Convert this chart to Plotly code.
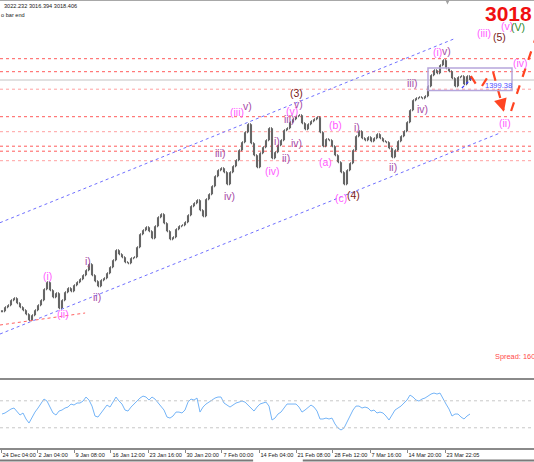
import plotly.graph_objects as go

# ---------------- data ----------------
tick_text = ["24 Dec 04:00", "2 Jan 04:00", "9 Jan 08:00", "16 Jan 12:00", "23 Jan 16:00",
             "30 Jan 20:00", "7 Feb 00:00", "14 Feb 04:00", "21 Feb 08:00", "28 Feb 12:00",
             "7 Mar 16:00", "14 Mar 20:00", "23 Mar 22:05"]
tick_bars = [-0.33, 11.67, 24, 36.33, 48.67, 61, 73.33, 85.67, 98, 110.33, 122.67, 135, 147.67]

close = [2556, 2564, 2568, 2578, 2582, 2572, 2564, 2558, 2550, 2538, 2548, 2558, 2568, 2578, 2600,
         2614, 2598, 2584, 2592, 2562, 2578, 2594, 2602, 2596, 2608, 2614, 2620, 2628, 2638, 2650,
         2628, 2616, 2606, 2618, 2622, 2632, 2644, 2658, 2678, 2670, 2664, 2654, 2652, 2662, 2664,
         2684, 2710, 2718, 2724, 2716, 2702, 2726, 2744, 2750, 2732, 2716, 2700, 2704, 2720, 2726,
         2728, 2734, 2748, 2766, 2772, 2778, 2758, 2746, 2780, 2790, 2806, 2826, 2838, 2842, 2834,
         2810, 2834, 2846, 2858, 2878, 2894, 2914, 2930, 2892, 2868, 2844, 2872, 2884, 2898, 2922,
         2862, 2874, 2888, 2898, 2918, 2922, 2934, 2940, 2946, 2948, 2932, 2920, 2930, 2936, 2940,
         2944, 2914, 2886, 2900, 2898, 2886, 2868, 2854, 2834, 2810, 2838, 2852,
         2878, 2906, 2916, 2902, 2898, 2904, 2896, 2902, 2910, 2902, 2896, 2894, 2882, 2864, 2878,
         2896, 2906, 2916, 2934, 2958, 2978, 2982, 2984, 2982, 2986, 3006, 3028, 3038, 3032, 3048,
         3058, 3042, 3036, 3022, 3006, 3024, 3026, 3010, 3026, 3018.4]

rsi = [50.4, 51.9, 54.8, 57.8, 59.3, 53.3, 48.9, 51.9, 43.0, 37.0, 45.9, 53.3, 59.3, 65.2, 72.6,
       69.6, 60.7, 51.9, 48.9, 54.8, 56.3, 59.3, 60.7, 65.2, 63.7, 66.7, 66.7, 69.6, 75.6, 71.1,
       62.2, 47.4, 45.9, 51.9, 57.8, 63.7, 60.7, 68.1, 75.6, 69.6, 65.2, 56.3, 54.8, 60.7, 65.2,
       71.1, 74.1, 77.0, 75.6, 71.1, 75.6, 72.6, 66.7, 62.2, 56.3, 45.9, 44.4, 47.4, 53.3, 53.3,
       51.9, 56.3, 68.1, 72.6, 71.1, 74.1, 53.3, 60.7, 65.2, 68.1, 71.1, 74.1, 75.6, 75.6, 66.7,
       63.7, 60.7, 63.7, 66.7, 68.1, 69.6, 68.1, 63.7, 57.8, 54.8, 60.7, 65.2, 66.7, 68.1, 62.2,
       41.5, 44.4, 50.4, 53.3, 59.3, 65.2, 65.2, 65.2, 65.2, 60.7, 53.3, 56.3, 60.7, 63.7, 60.7,
       54.8, 43.0, 43.0, 44.4, 43.0, 44.4, 35.6, 29.6, 26.7, 29.6, 38.5, 48.9,
       56.3, 62.2, 62.2, 59.3, 60.7, 59.3, 54.8, 56.3, 51.9, 53.3, 51.9, 47.4, 41.5, 48.9, 56.3,
       59.3, 62.2, 66.7, 71.1, 78.5, 75.6, 71.1, 69.6, 72.6, 74.1, 77.0, 80.0, 81.5, 80.0, 81.5,
       72.6, 65.2, 57.8, 47.4, 50.4, 50.4, 45.9, 43.0, 47.4, 50.4]

level_strong = [3061, 3035, 2945, 2886, 2876]
level_light = [3000, 2915, 2857]
bid_price = 3018.4
rsi_levels = [70, 30]

upper_channel = ([-0.667, 151], [2733.0, 3101.4])
lower_channel = ([-0.667, 166], [2510.4, 2912.4])
red_trend = ([-0.667, 27.7], [2528.4, 2552.4])

MAG = "#ff5cff"
PUR = "#a64ca6"
DRED = "#7a1a1a"
GRN = "#2e8b2e"
wave_labels = [
    ("(i)", 15, 2626, MAG), ("(ii)", 20.3, 2550, MAG), ("i)", 28.7, 2656, PUR), ("ii)", 31.7, 2584, PUR),
    ("iii)", 72.7, 2872, PUR), ("iv)", 75.7, 2786, PUR), ("(iii)", 78.3, 2954, MAG), ("v)", 81.7, 2966, PUR),
    ("(iv)", 90.3, 2836, MAG), ("i)", 91.7, 2896, PUR), ("ii)", 94.7, 2862, PUR), ("iii)", 95.7, 2940, PUR),
    ("iv)", 98, 2892, PUR), ("(v)", 96.7, 2956, MAG), ("v)", 98.7, 2970, PUR), ("(3)", 98.3, 2992, DRED),
    ("(a)", 107.7, 2854, MAG), ("(b)", 111, 2928, MAG), ("(c)", 113, 2782, MAG), ("(4)", 117, 2788, DRED),
    ("i)", 118.3, 2924, PUR), ("ii)", 130.3, 2844, PUR), ("iii)", 136.7, 3012, PUR), ("iv)", 140.3, 2960, PUR),
    ("(i)", 145.3, 3074, MAG), ("v)", 148.3, 3076, PUR), ("(ii)", 167.7, 2932, MAG), ("(iv)", 172.7, 3052, MAG),
    ("(iii)", 160.7, 3112, MAG), ("(5)", 165.7, 3104, DRED), ("(v)", 168.3, 3126, MAG), ("(V)", 172, 3124, GRN),
]

bars = list(range(len(close)))
opens = [close[0]] + close[:-1]
highs = [max(o, c) for o, c in zip(opens, close)]
lows = [min(o, c) for o, c in zip(opens, close)]

fig = go.Figure()

# horizontal levels
for lv in level_strong:
    fig.add_hline(y=lv, line=dict(color="#ff5a5a", width=1, dash="dot"), layer="below")
for lv in level_light:
    fig.add_hline(y=lv, line=dict(color="#ffa0a0", width=1, dash="dot"), layer="below")
fig.add_hline(y=bid_price, line=dict(color="#c4c4c4", width=1), layer="below")

# channel lines
for xs, ys in [upper_channel, lower_channel]:
    fig.add_trace(go.Scatter(x=xs, y=ys, mode="lines", line=dict(color="#7070ff", width=1, dash="dot"),
                             hoverinfo="skip"))
fig.add_trace(go.Scatter(x=red_trend[0], y=red_trend[1], mode="lines",
                         line=dict(color="#ff6060", width=1, dash="dot"), hoverinfo="skip"))

# price bars
fig.add_trace(go.Ohlc(x=bars, open=opens, high=highs, low=lows, close=close, tickwidth=0.35,
                      increasing=dict(line=dict(color="#666666", width=2.1)),
                      decreasing=dict(line=dict(color="#666666", width=2.1))))

# small blue trendline inside box
fig.add_trace(go.Scatter(x=[153.3, 156.7], y=[3002.4, 3022.4], mode="lines",
                         line=dict(color="#3c3cff", width=1.2, dash="dot"), hoverinfo="skip"))

# box
fig.add_shape(type="rect", xref="x", yref="y", x0=142, x1=170, y0=2997.4, y1=3042.4,
              line=dict(color="#b6a6dc", width=1.5))

# red projected path
RED = "#ff4422"
for xs, ys in [([156.3, 158.5], [3026.4, 3005.0]), ([160, 163], [3006.4, 3034.4]),
               ([163.7, 167.2], [3034.4, 2958]), ([169.7, 180], [2956.4, 3140])]:
    fig.add_trace(go.Scatter(x=xs, y=ys, mode="lines", line=dict(color=RED, width=2.2, dash="dash"),
                             hoverinfo="skip"))
for hx, hy, tx, ty in [(158.7, 3004.0, 158.0, 3011.0), (167.3, 2955.0, 166.5, 2972.0)]:
    fig.add_annotation(x=hx, y=hy, ax=tx, ay=ty, xref="x", yref="y", axref="x", ayref="y",
                       showarrow=True, arrowhead=2, arrowsize=1.3, arrowwidth=2, arrowcolor=RED, text="")

# RSI
fig.add_trace(go.Scatter(x=bars, y=rsi, mode="lines", line=dict(color="#74b4f7", width=1),
                         xaxis="x", yaxis="y2", hoverinfo="skip"))
for lv in rsi_levels:
    fig.add_shape(type="line", xref="paper", yref="y2", x0=0, x1=1, y0=lv, y1=lv,
                  line=dict(color="#c8c8c8", width=1, dash="dot"))

# wave labels
for t, x, y, c in wave_labels:
    fig.add_annotation(x=x, y=y, xref="x", yref="y", text=t, showarrow=False,
                       font=dict(color=c, size=10.5, family="Liberation Sans"))

fig.add_annotation(x=160.3, y=3008, xref="x", yref="y", text="1399.38", showarrow=False, xanchor="left",
                   font=dict(color="#5050ff", size=7.5, family="Liberation Sans"))

# texts
fig.add_annotation(x=0.003, y=0.987, xref="paper", yref="paper", text="3022.232 3016.394 3018.406",
                   showarrow=False, xanchor="left", yanchor="middle",
                   font=dict(color="#202020", size=5.6, family="Liberation Sans"))
fig.add_annotation(x=-0.002, y=0.967, xref="paper", yref="paper", text="o bar end",
                   showarrow=False, xanchor="left", yanchor="middle",
                   font=dict(color="#202020", size=5.6, family="Liberation Sans"))
fig.add_annotation(x=1.0, y=0.969, xref="paper", yref="paper", text="<b>3018</b>",
                   showarrow=False, xanchor="right", yanchor="middle",
                   font=dict(color="#f01010", size=21, family="Liberation Sans"))
fig.add_annotation(x=0.924, y=0.205, xref="paper", yref="paper", text="Spread: 160",
                   showarrow=False, xanchor="left", yanchor="middle",
                   font=dict(color="#ff4a4a", size=7.4, family="Liberation Sans"))

# frame lines
fig.add_shape(type="line", xref="paper", yref="paper", x0=0, x1=1, y0=0.154, y1=0.154,
              line=dict(color="#8a8a8a", width=2))
fig.add_shape(type="line", xref="paper", yref="paper", x0=0, x1=1, y0=1, y1=1,
              line=dict(color="#a8a8a8", width=2))
fig.add_shape(type="path", xref="paper", yref="paper", path="M 0.834 1 L 0.842 1 L 0.838 0.99 Z",
              fillcolor="#a0a0a0", line=dict(width=0))
fig.add_shape(type="line", xref="paper", yref="paper", x0=0, x1=0.474, y0=-0.028, y1=-0.028,
              line=dict(color="#7a7a7a", width=2))
fig.add_shape(type="line", xref="paper", yref="paper", x0=0.567, x1=1, y0=-0.028, y1=-0.028,
              line=dict(color="#7a7a7a", width=2))

fig.update_layout(
    width=534, height=462, margin=dict(l=0, r=0, t=0, b=14, autoexpand=False),
    paper_bgcolor="white", plot_bgcolor="white", showlegend=False,
    xaxis=dict(range=[-0.667, 177.333], anchor="y2", showgrid=False, zeroline=False,
               showline=True, linecolor="#8a8a8a", linewidth=2, ticks="outside", ticklen=3,
               tickcolor="#8a8a8a", tickvals=tick_bars, ticktext=tick_text, tickangle=0,
               ticklabelposition="outside right", automargin=False,
               tickfont=dict(size=5.6, color="#202020", family="Liberation Sans"),
               rangeslider=dict(visible=False), fixedrange=True),
    yaxis=dict(domain=[0.154, 1], range=[2420.4, 3178.4], visible=False, fixedrange=True),
    yaxis2=dict(domain=[0, 0.1505], range=[0, 100], visible=False, fixedrange=True),
)

fig.write_html("out.html", config={"displayModeBar": False},
               post_script="document.body.style.margin='0px';document.body.style.overflow='hidden';")
